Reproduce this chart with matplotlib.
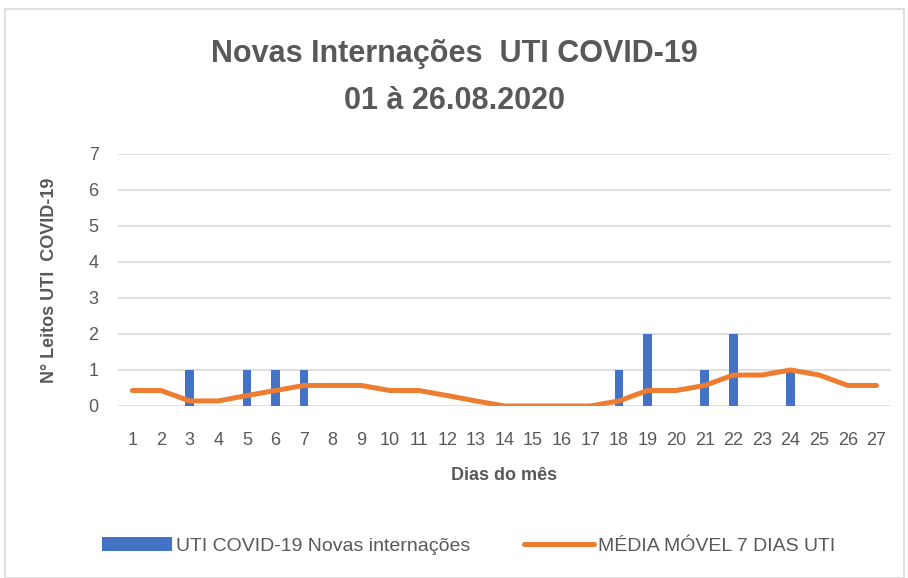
import matplotlib
matplotlib.use("Agg")
import matplotlib.pyplot as plt
from matplotlib.patches import Rectangle

days = list(range(1, 28))
day_labels = [str(d) for d in days]
novas = [0, 0, 1, 0, 1, 1, 1, 0, 0, 0, 0, 0, 0, 0, 0, 0, 0, 1, 2, 0, 1, 2, 0, 1, 0, 0, 0]
media = [0.43, 0.43, 0.14, 0.14, 0.29, 0.43, 0.57, 0.57, 0.57, 0.43, 0.43, 0.29, 0.14, 0.0,
         0.0, 0.0, 0.0, 0.14, 0.43, 0.43, 0.57, 0.86, 0.86, 1.0, 0.86, 0.57, 0.57]
yticks = list(range(0, 8))

title = "Novas Internações  UTI COVID-19\n01 à 26.08.2020"
xlabel = "Dias do mês"
ylabel = "N° Leitos UTI  COVID-19"
bar_label = "UTI COVID-19 Novas internações"
line_label = "MÉDIA MÓVEL 7 DIAS UTI"

plt.rcParams["font.family"] = ["Liberation Sans", "DejaVu Sans"]
txt = "#595959"

fig = plt.figure(figsize=(9.08, 5.78), dpi=100)
fig.patches.append(Rectangle((0.006, 0.0), 0.99, 0.984, transform=fig.transFigure,
                             fill=False, edgecolor="#d9d9d9", linewidth=1.2))
ax = fig.add_axes([0.130, 0.2976, 0.851, 0.436])

bars = ax.bar(days, novas, width=0.3, color="#4472C4", label=bar_label, zorder=2)
line, = ax.plot(days, media, color="#ED7D31", linewidth=3.6, solid_capstyle="round",
                solid_joinstyle="round", label=line_label, zorder=3)

ax.set_xlim(0.5, 27.5)
ax.set_ylim(0, 7)
ax.set_yticks(yticks)
ax.set_xticks(days)
ax.set_xticklabels(day_labels)
ax.yaxis.grid(True, color="#d9d9d9", linewidth=1.2, zorder=0)
ax.set_axisbelow(True)
for s in ax.spines.values():
    s.set_visible(False)
ax.tick_params(axis="both", length=0, labelsize=13, colors=txt)
ax.tick_params(axis="x", pad=19)
ax.tick_params(axis="y", pad=14)

ax.set_xlabel(xlabel, fontsize=13, fontweight="bold", color=txt, labelpad=13)
ax.set_ylabel(ylabel, fontsize=13, fontweight="bold", color=txt, labelpad=22)

fig.text(0.5, 0.866, title, ha="center", va="center", fontsize=22, fontweight="bold",
         color=txt, linespacing=1.7)

fig.legend(handles=[bars, line], labels=[bar_label, line_label], loc="center",
           bbox_to_anchor=(0.516, 0.055), ncol=2, frameon=False,
           fontsize=14, labelcolor=txt, handlelength=3.6, handletextpad=0.2,
           columnspacing=2.8)

fig.savefig("out.png", dpi=100)
